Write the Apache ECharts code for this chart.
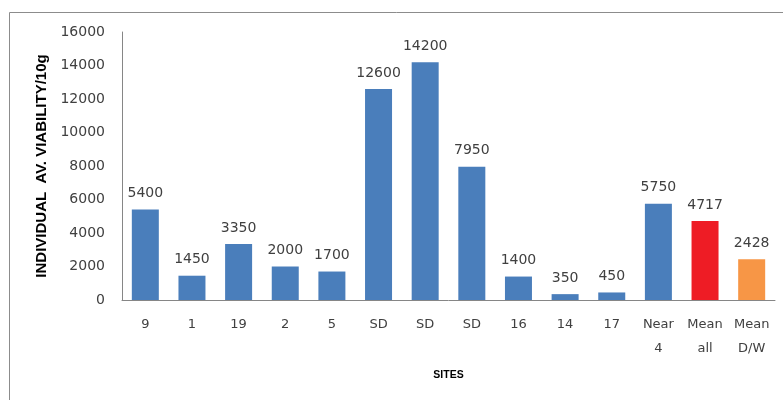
<!DOCTYPE html>
<html>
<head>
<meta charset="utf-8">
<script src="https://cdn.jsdelivr.net/npm/echarts@6/dist/echarts.min.js"></script>
<style>
  html, body { margin: 0; padding: 0; background: #fff; }
  #chart { width: 783px; height: 400px; }
</style>
</head>
<body>
<div id="chart"></div>
<script>
// Sites along the x axis (two-line labels use \n)
var sites = ['9', '1', '19', '2', '5', 'SD', 'SD', 'SD', '16', '14', '17', 'Near\n4', 'Mean\nall', 'Mean\nD/W'];
// Individual average viability per 10 g at each site
var viability = [5400, 1450, 3350, 2000, 1700, 12600, 14200, 7950, 1400, 350, 450, 5750, 4717, 2428];
// Bar fill per site: plain sites blue, overall mean red, D/W mean orange
var barColors = ['#4a7ebb', '#4a7ebb', '#4a7ebb', '#4a7ebb', '#4a7ebb', '#4a7ebb', '#4a7ebb',
                 '#4a7ebb', '#4a7ebb', '#4a7ebb', '#4a7ebb', '#4a7ebb', '#ee1c25', '#f79646'];
var yTicks = [0, 2000, 4000, 6000, 8000, 10000, 12000, 14000, 16000];

var chart = echarts.init(document.getElementById('chart'), null, { renderer: 'canvas' });

chart.setOption({
  animation: false,
  backgroundColor: '#ffffff',
  graphic: [{
    type: 'rect',
    shape: { x: 9.5, y: 12.5, width: 820, height: 440 },
    style: { fill: 'none', stroke: '#8c8c8c', lineWidth: 1 },
    silent: true
  }],
  grid: { left: 122, right: 8, top: 32, bottom: 100 },
  xAxis: {
    type: 'category',
    data: sites,
    name: 'SITES',
    nameLocation: 'middle',
    nameGap: 70,
    nameTextStyle: { fontFamily: 'Liberation Sans', fontWeight: 'bold', fontSize: 10.5, color: '#000' },
    axisLine: { lineStyle: { color: '#868686', width: 1 } },
    axisTick: { show: false },
    axisLabel: {
      interval: 0,
      margin: 13,
      fontFamily: 'DejaVu Sans',
      fontSize: 13,
      lineHeight: 24,
      color: '#404040'
    }
  },
  yAxis: {
    type: 'value',
    min: yTicks[0],
    max: yTicks[yTicks.length - 1],
    interval: yTicks[1] - yTicks[0],
    name: 'INDIVIDUAL  AV. VIABILITY/10g',
    nameLocation: 'middle',
    nameGap: 68,
    nameRotate: 90,
    nameTextStyle: { fontFamily: 'Liberation Sans', fontWeight: 'bold', fontSize: 15, color: '#000' },
    axisLine: { show: true, lineStyle: { color: '#868686', width: 1 } },
    axisTick: { show: false },
    splitLine: { show: false },
    axisLabel: {
      margin: 17,
      fontFamily: 'DejaVu Sans',
      fontSize: 14,
      color: '#404040',
      formatter: function (v) { return String(v); }
    }
  },
  series: [{
    type: 'bar',
    barWidth: 27,
    data: viability.map(function (v, i) {
      return { value: v, itemStyle: { color: barColors[i] } };
    }),
    label: {
      show: true,
      position: 'top',
      distance: 9,
      fontFamily: 'DejaVu Sans',
      fontSize: 14,
      color: '#404040'
    }
  }]
});
</script>
</body>
</html>
